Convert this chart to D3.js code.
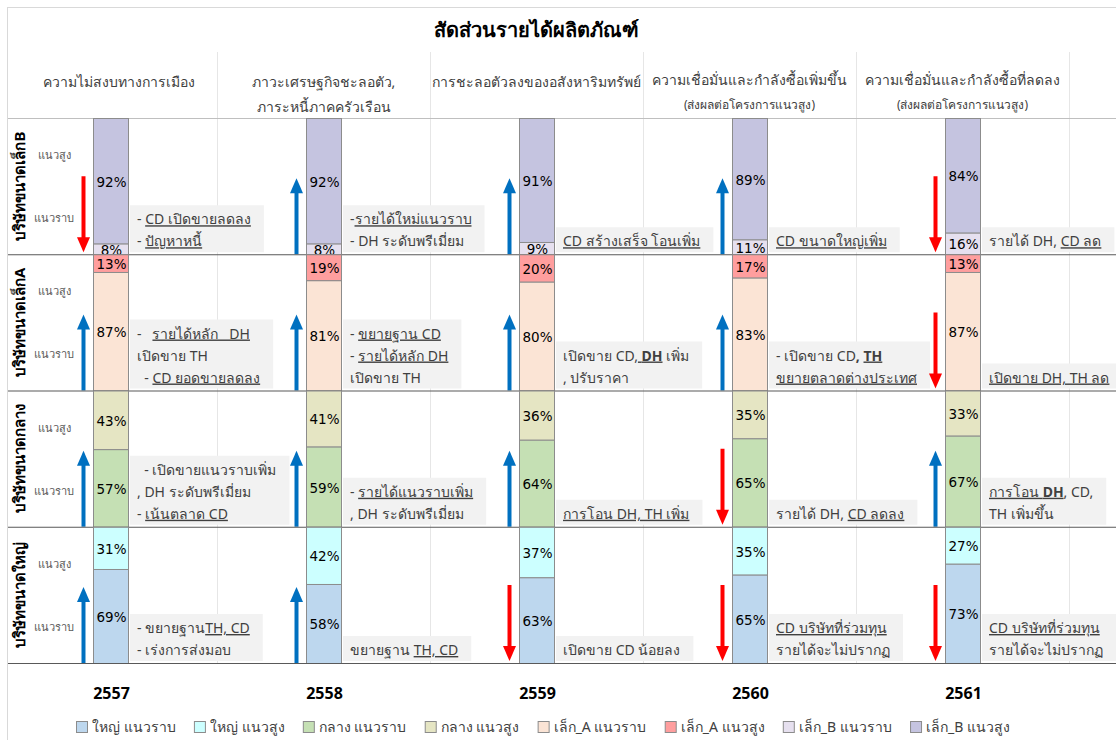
<!DOCTYPE html>
<html><head><meta charset="utf-8">
<script src="https://cdn.jsdelivr.net/npm/d3@7"></script>
<style>
body{margin:0;background:#fff;}
svg text{font-family: Tahoma, "Noto Sans", "DejaVu Sans", sans-serif; white-space: pre;}
svg text.pct{font-family: "DejaVu Sans", Tahoma, sans-serif;}
</style></head><body>
<svg id="c" width="1116" height="740"></svg>
<script>
const title = "สัดส่วนรายได้ผลิตภัณฑ์";
const years = ["2557","2558","2559","2560","2561"];
const headers = [
  ["ความไม่สงบทางการเมือง"],
  ["ภาวะเศรษฐกิจชะลอตัว,","ภาระหนี้ภาคครัวเรือน"],
  ["การชะลอตัวลงของอสังหาริมทรัพย์"],
  ["ความเชื่อมั่นและกำลังซื้อเพิ่มขึ้น","(ส่งผลต่อโครงการแนวสูง)"],
  ["ความเชื่อมั่นและกำลังซื้อที่ลดลง","(ส่งผลต่อโครงการแนวสูง)"]
];
const groups = ["เล็ก_B","เล็ก_A","กลาง","ใหญ่"];
const rowLabels = ["บริษัทขนาดเล็กB","บริษัทขนาดเล็กA","บริษัทขนาดกลาง","บริษัทขนาดใหญ่"];
const typeLabels = ["แนวราบ","แนวสูง"];

// values (%)
const largeLow   = [69,58,63,65,73];
const largeHigh  = [31,42,37,35,27];
const midLow     = [57,59,64,65,67];
const midHigh    = [43,41,36,35,33];
const smallALow  = [87,81,80,83,87];
const smallAHigh = [13,19,20,17,13];
const smallBLow  = [8,8,9,11,16];
const smallBHigh = [92,92,91,89,84];

// trend arrows per row
const trendSmallB = ["down","up","up","up","down"];
const trendSmallA = ["up","up","up","up","down"];
const trendMid    = ["up","up","up","down","up"];
const trendLarge  = ["up","up","down","down","down"];

// notes: "_" toggles underline, "*" toggles bold
const notesSmallB = [
  ["- _CD เปิดขายลดลง_","- _ปัญหาหนี้_"],
  ["-_รายได้ใหม่แนวราบ_","- DH ระดับพรีเมี่ยม"],
  ["_CD สร้างเสร็จ โอนเพิ่ม_"],
  ["_CD ขนาดใหญ่เพิ่ม_"],
  ["รายได้ DH, _CD ลด_"]
];
const notesSmallA = [
  ["-   _รายได้หลัก   DH_","เปิดขาย TH","  - _CD ยอดขายลดลง_"],
  ["- _ขยายฐาน CD_","- _รายได้หลัก DH_","เปิดขาย TH"],
  ["เปิดขาย CD,_ *DH*_ เพิ่ม",", ปรับราคา"],
  ["- เปิดขาย CD*,* _*TH*_","_ขยายตลาดต่างประเทศ_"],
  ["_เปิดขาย DH, TH ลด_"]
];
const notesMid = [
  ["  - เปิดขายแนวราบเพิ่ม",", DH ระดับพรีเมี่ยม","- _เน้นตลาด CD_"],
  ["- _รายได้แนวราบเพิ่ม_",", DH ระดับพรีเมี่ยม"],
  ["_การโอน DH, TH เพิ่ม_"],
  ["รายได้ DH, _CD ลดลง_"],
  ["_การโอน *DH*_, CD,","TH เพิ่มขึ้น"]
];
const notesLarge = [
  ["- ขยายฐาน_TH, CD_","- เร่งการส่งมอบ"],
  ["ขยายฐาน _TH, CD_"],
  ["เปิดขาย CD น้อยลง"],
  ["_CD บริษัทที่ร่วมทุน_","รายได้จะไม่ปรากฏ"],
  ["_CD บริษัทที่ร่วมทุน_","รายได้จะไม่ปรากฏ"]
];

const legendLabels = ["ใหญ่ แนวราบ","ใหญ่ แนวสูง","กลาง แนวราบ","กลาง แนวสูง","เล็ก_A แนวราบ","เล็ก_A แนวสูง","เล็ก_B แนวราบ","เล็ก_B แนวสูง"];
const legendColors = ["#bdd7ee","#ccffff","#c5e0b4","#e5e5c3","#fbe4d5","#ff9e9e","#e6e0ef","#c5c4e0"];

// rows built from arrays
const rows = [
  {low: smallBLow, high: smallBHigh, trend: trendSmallB, notes: notesSmallB, cLow: legendColors[6], cHigh: legendColors[7]},
  {low: smallALow, high: smallAHigh, trend: trendSmallA, notes: notesSmallA, cLow: legendColors[4], cHigh: legendColors[5]},
  {low: midLow, high: midHigh, trend: trendMid, notes: notesMid, cLow: legendColors[2], cHigh: legendColors[3]},
  {low: largeLow, high: largeHigh, trend: trendLarge, notes: notesLarge, cLow: legendColors[0], cHigh: legendColors[1]}
];

const svg = d3.select("#c");
svg.append("rect").attr("x",7.5).attr("y",7.5).attr("width",1140).attr("height",760)
  .attr("fill","none").attr("stroke","#d9d9d9");

const x = d3.scaleBand().domain(years).range([4,1069]);
const rowY = d3.scaleBand().domain(groups).range([118,663]);
const barW = 35;
const cx = d => x(d) + x.bandwidth()/2;

// title
svg.append("text").attr("x",536).attr("y",37).attr("text-anchor","middle")
  .attr("font-size",20).attr("font-weight","bold").attr("fill","#000").text(title);

// vertical gridlines
svg.selectAll(".vg").data(years).join("line")
  .attr("x1",d=>x(d)+x.bandwidth()+0.5).attr("x2",d=>x(d)+x.bandwidth()+0.5)
  .attr("y1",52).attr("y2",663).attr("stroke","#e6e6e6");

// headers
years.forEach((yr,i)=>{
  const h = headers[i];
  h.forEach((line,j)=>{
    const small = j===1 && i>=3;
    svg.append("text").attr("x",cx(yr) + (i===0?8:0)).attr("y", j===0 ? (h.length>1 && i>=3 ? 85 : 87) : (small?109:112))
      .attr("text-anchor","middle").attr("font-size", small?12:14).attr("fill","#404040").text(line);
  });
});

// header bottom line
svg.append("line").attr("x1",8).attr("x2",1116).attr("y1",118.5).attr("y2",118.5).attr("stroke","#bfbfbf");

function parseLine(s){
  const segs=[]; let u=false,b=false,cur="";
  for(const ch of s){
    if(ch==="_"||ch==="*"){ if(cur) segs.push({t:cur,u,b}); cur=""; if(ch==="_")u=!u; else b=!b; }
    else cur+=ch;
  }
  if(cur) segs.push({t:cur,u,b});
  return segs;
}

rows.forEach((r,ri)=>{
  const g = groups[ri];
  const top = rowY(g), bot = top + rowY.bandwidth();
  const yv = d3.scaleLinear().domain([0,100]).range([bot,top]);

  // row label
  svg.append("text").attr("transform",`translate(25,${(top+bot)/2}) rotate(-90)`)
    .attr("text-anchor","middle").attr("font-size",15).attr("font-weight","bold").attr("fill","#000")
    .text(rowLabels[ri]);
  svg.append("text").attr("x",54).attr("y",top+41).attr("text-anchor","middle").attr("font-size",11).attr("fill","#595959").text(typeLabels[1]);
  svg.append("text").attr("x",54).attr("y",top+104).attr("text-anchor","middle").attr("font-size",11).attr("fill","#595959").text(typeLabels[0]);

  years.forEach((yr,i)=>{
    const bx = cx(yr) - barW/2;
    const segs = [
      {v0:0, v1:r.low[i], val:r.low[i], c:r.cLow},
      {v0:r.low[i], v1:r.low[i]+r.high[i], val:r.high[i], c:r.cHigh}
    ];
    segs.forEach(s=>{
      svg.append("rect").attr("x",bx+0.5).attr("y",yv(s.v1)+0.5).attr("width",barW).attr("height",yv(s.v0)-yv(s.v1))
        .attr("fill",s.c).attr("stroke","#8c8c8c");
    });
    segs.forEach(s=>{
      svg.append("text").attr("class","pct").attr("x",bx+barW/2+1).attr("y",(yv(s.v0)+yv(s.v1))/2+1)
        .attr("text-anchor","middle").attr("dominant-baseline","central")
        .attr("font-size",13.5).attr("fill","#000").text(s.val+"%");
    });

    // arrow
    const ax = bx - 9.5, len = 76, up = r.trend[i]==="up";
    const col = up ? "#0070c0" : "#ff0000";
    const y0 = up ? bot : bot - len - 2, y1 = up ? bot - len : bot - 2;
    if(up){
      svg.append("line").attr("x1",ax).attr("x2",ax).attr("y1",y0).attr("y2",y1+13).attr("stroke",col).attr("stroke-width",4);
      svg.append("path").attr("d",`M${ax-6.5},${y1+15}L${ax},${y1}L${ax+6.5},${y1+15}Z`).attr("fill",col);
    } else {
      svg.append("line").attr("x1",ax).attr("x2",ax).attr("y1",y0).attr("y2",y1-13).attr("stroke",col).attr("stroke-width",4);
      svg.append("path").attr("d",`M${ax-6.5},${y1-15}L${ax},${y1}L${ax+6.5},${y1-15}Z`).attr("fill",col);
    }

    // note box
    const lines = r.notes[i];
    const ng = svg.append("g");
    const tx = bx + barW + 9;
    const lh = 22;
    const lastBase = bot - 8;
    const texts = lines.map((ln,li)=>{
      const t = ng.append("text").attr("x",tx).attr("y",lastBase - (lines.length-1-li)*lh)
        .attr("font-size",14).attr("fill","#404040").attr("xml:space","preserve");
      parseLine(ln).forEach(sg=>{
        t.append("tspan").attr("font-weight",sg.b?"bold":null)
          .style("text-decoration",sg.u?"underline":null).text(sg.t);
      });
      return t;
    });
    let w = d3.max(texts, t=>t.node().getComputedTextLength());
    const boxTop = lastBase - (lines.length-1)*lh - 19;
    ng.insert("rect","text").attr("x",bx+barW+2).attr("y",boxTop).attr("width",w+20).attr("height",bot-2-boxTop)
      .attr("fill","#f2f2f2");
  });
  // row bottom line
  svg.append("line").attr("x1",8).attr("x2",1116).attr("y1",bot+0.5).attr("y2",bot+0.5).attr("stroke","#595959").attr("stroke-width",1.2);
});

// year labels
svg.selectAll(".yl").data(years).join("text")
  .attr("x",d=>cx(d)+1).attr("y",699).attr("text-anchor","middle")
  .attr("font-size",16).attr("font-weight","bold").attr("fill","#000").text(d=>d);

// legend: spread items between x=76 and x=1010
const lg = svg.append("g");
const items = legendLabels.map((lab,i)=>{
  const it = lg.append("g");
  it.append("rect").attr("x",0.5).attr("y",721.5).attr("width",11).attr("height",11)
    .attr("fill",legendColors[i]).attr("stroke","#8c8c8c");
  const t = it.append("text").attr("x",16).attr("y",732).attr("font-size",14).attr("fill","#404040").text(lab);
  return {it, w: 16 + t.node().getComputedTextLength()};
});
const totalW = d3.sum(items, d=>d.w);
const gap = (1010 - 76 - totalW) / (items.length - 1);
let lx = 76;
items.forEach(d=>{ d.it.attr("transform",`translate(${lx},0)`); lx += d.w + gap; });
</script>
</body></html>
